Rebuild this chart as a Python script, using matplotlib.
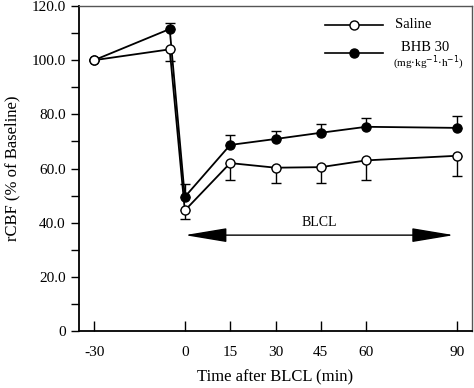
import numpy as np
import matplotlib
matplotlib.use("Agg")
import matplotlib.pyplot as plt

plt.rcParams['font.family'] = ['Liberation Serif', 'DejaVu Serif']

# time points (min after BLCL)
time_min = [-30, -5, 0, 15, 30, 45, 60, 90]
saline = [100.0, 104.0, 44.5, 62.0, 60.3, 60.5, 63.0, 64.7]
saline_err = [0.0, 4.4, 3.0, 6.2, 5.8, 5.7, 7.2, 7.5]
bhb = [100.0, 111.5, 49.5, 68.7, 70.9, 73.2, 75.4, 75.0]
bhb_err = [0.0, 2.3, 4.8, 3.8, 3.0, 3.2, 3.4, 4.4]

xticks = [-30, 0, 15, 30, 45, 60, 90]
yticks = [0, 20, 40, 60, 80, 100, 120]
ytick_labels = ['0', '20.0', '40.0', '60.0', '80.0', '100.0', '120.0']

fig = plt.figure(figsize=(4.74, 3.88), dpi=100)
ax = fig.add_axes([0.1667, 0.1469, 0.8291, 0.8376])

# saline: error bars downward, BHB: upward
ax.errorbar(time_min, saline, yerr=[saline_err, np.zeros(len(saline_err))],
            fmt='none', ecolor='black', elinewidth=1.0, capsize=3.5, capthick=1.0)
ax.errorbar(time_min, bhb, yerr=[np.zeros(len(bhb_err)), bhb_err],
            fmt='none', ecolor='black', elinewidth=1.0, capsize=3.5, capthick=1.0)
ax.plot(time_min, bhb, '-o', color='black', lw=1.3, ms=6.5,
        mfc='black', mec='black', zorder=3)
ax.plot(time_min, saline, '-o', color='black', lw=1.3, ms=6.5,
        mfc='white', mec='black', mew=1.0, zorder=4)

# BLCL double arrow
ax.annotate('', xy=(0, 35.4), xytext=(89, 35.4),
            arrowprops=dict(arrowstyle='<|-|>,head_length=1.2,head_width=0.2',
                            color='black', lw=1.0,
                            mutation_scale=22, shrinkA=0, shrinkB=0))
ax.text(44.5, 37.5, 'BLCL', ha='center', va='bottom', fontsize=10)

# legend drawn by hand
lx = [46.5, 65.5]
ax.plot(lx, [113.0, 113.0], '-', color='black', lw=1.2, clip_on=False)
ax.plot([56], [113.0], 'o', ms=6.5, mfc='white', mec='black', mew=1.0)
ax.plot(lx, [102.5, 102.5], '-', color='black', lw=1.2, clip_on=False)
ax.plot([56], [102.5], 'o', ms=6.5, mfc='black', mec='black')
ax.text(75.5, 113.0, 'Saline', ha='center', va='center', fontsize=10.5)
ax.text(79.5, 104.5, 'BHB 30', ha='center', va='center', fontsize=10.5)
ax.text(80.5, 99.0, '(mg$\\cdot$kg$^{-1}$$\\cdot$h$^{-1}$)', ha='center',
        va='center', fontsize=8)

ax.set_xlim(-35, 95)
ax.set_ylim(0, 120)
ax.set_xticks(xticks)
ax.set_xticklabels([str(t) for t in xticks])
ax.set_yticks(yticks)
ax.set_yticklabels(ytick_labels)
ax.set_yticks([10, 30, 50, 70, 90, 110], minor=True)
ax.tick_params(axis='x', direction='in', length=7, width=1.0, labelsize=11, pad=11)
ax.tick_params(axis='y', which='major', direction='out', length=6, width=1.0,
               labelsize=11)
ax.tick_params(axis='y', which='minor', direction='out', length=6, width=1.0)

for s in ['left', 'bottom']:
    ax.spines[s].set_linewidth(1.3)
for s in ['top', 'right']:
    ax.spines[s].set_linewidth(1.0)
    ax.spines[s].set_color('#555555')

ax.set_xlabel('Time after BLCL (min)', fontsize=12, labelpad=7)
ax.set_ylabel('rCBF (% of Baseline)', fontsize=12, labelpad=8)

fig.savefig('out.png', dpi=100)
